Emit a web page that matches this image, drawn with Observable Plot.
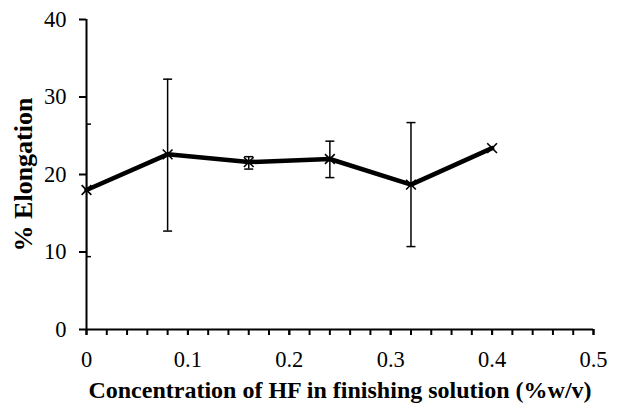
<!DOCTYPE html>
<html>
<head>
<meta charset="utf-8">
<script src="https://cdn.jsdelivr.net/npm/d3@7"></script>
<script src="https://cdn.jsdelivr.net/npm/@observablehq/plot@0.6"></script>
<style>
  html, body { margin: 0; padding: 0; background: #fff; }
</style>
</head>
<body>
<div id="chart"></div>
<script>
const concentration = [0, 0.08, 0.16, 0.24, 0.32, 0.4];
const elongation = [18.0, 22.6, 21.6, 22.0, 18.7, 23.4];
const errLow = [9.4, 12.7, 20.7, 19.6, 10.7, null];
const errHigh = [26.5, 32.3, 22.3, 24.3, 26.7, null];
const xMajorTicks = [0, 0.1, 0.2, 0.3, 0.4, 0.5];
const xMinorTicks = d3.range(0, 26).map(i => i / 50);
const yTicks = [0, 10, 20, 30, 40];

const data = concentration.map((x, i) => ({x, y: elongation[i], lo: errLow[i], hi: errHigh[i]}));
const errData = data.filter(d => d.lo != null);
const caps = errData.flatMap(d => [{x: d.x, y: d.lo}, {x: d.x, y: d.hi}]);

const capSymbol = {
  draw(ctx) { ctx.moveTo(-4.5, 0); ctx.lineTo(4.5, 0); }
};

const chart = Plot.plot({
  width: 618,
  height: 403,
  marginLeft: 86,
  marginRight: 25,
  marginTop: 19,
  marginBottom: 74,
  style: {fontFamily: "Liberation Serif", fontSize: "22.5px", color: "#000", background: "#fff"},
  x: {domain: [0, 0.5]},
  y: {domain: [0, 40]},
  marks: [
    Plot.axisX({ticks: xMinorTicks, tickSize: 6, tickFormat: () => "", label: null, stroke: "#000", strokeWidth: 2, strokeOpacity: 1}),
    Plot.axisX({ticks: xMajorTicks, tickSize: 6, tickPadding: 16, tickFormat: d => String(d), label: null, stroke: "#000", strokeWidth: 2, strokeOpacity: 1, fill: "#000"}),
    Plot.axisY({ticks: yTicks, tickSize: 7, tickPadding: 13, label: null, stroke: "#000", strokeWidth: 2, strokeOpacity: 1, fill: "#000"}),
    Plot.ruleX(errData, {x: "x", y1: "lo", y2: "hi", stroke: "#000", strokeWidth: 1.5, clip: true}),
    Plot.dot(caps, {x: "x", y: "y", symbol: capSymbol, stroke: "#000", strokeWidth: 1.5, clip: true}),
    Plot.line(data, {x: "x", y: "y", stroke: "#000", strokeWidth: 4.5, strokeLinejoin: "miter"}),
    Plot.dot(data, {x: "x", y: "y", symbol: "times", r: 4.5, stroke: "#000", strokeWidth: 1.6}),
    Plot.ruleY([0], {stroke: "#000", strokeWidth: 2}),
    Plot.ruleX([0], {stroke: "#000", strokeWidth: 2}),
    Plot.text(["Concentration of HF in finishing solution (%w/v)"], {frameAnchor: "bottom", dy: 61, lineAnchor: "middle", fontWeight: "bold", fontSize: 24, fill: "#000"}),
    Plot.text(["% Elongation"], {frameAnchor: "left", dx: -63, rotate: -90, textAnchor: "middle", lineAnchor: "middle", fontWeight: "bold", fontSize: 26, fill: "#000"})
  ]
});
document.getElementById("chart").appendChild(chart);
</script>
</body>
</html>
